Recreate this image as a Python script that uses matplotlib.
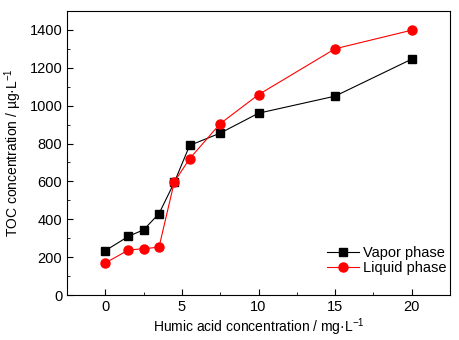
import matplotlib
matplotlib.use("Agg")
import matplotlib.pyplot as plt
from matplotlib.ticker import MultipleLocator

plt.rcParams["font.family"] = ["Liberation Sans", "DejaVu Sans"]
plt.rcParams["mathtext.fontset"] = "custom"
plt.rcParams["mathtext.rm"] = "Liberation Sans"
plt.rcParams["mathtext.it"] = "Liberation Sans"

# humic acid concentration (mg/L)
humic = [0, 1.5, 2.5, 3.5, 4.5, 5.5, 7.5, 10, 15, 20]
# TOC concentration (ug/L)
vapor = [235, 310, 345, 430, 595, 790, 855, 960, 1050, 1245]
liquid = [170, 238, 245, 253, 598, 720, 905, 1058, 1300, 1398]

fig = plt.figure(figsize=(4.6, 3.4), dpi=100)
ax = fig.add_axes([0.146, 0.132, 0.832, 0.836])

ax.plot(humic, vapor, color="black", lw=0.8, marker="s", ms=5.5, label="Vapor phase")
ax.plot(humic, liquid, color="red", lw=0.8, marker="o", ms=6.5, label="Liquid phase")

ax.set_xlim(-2.5, 22.5)
ax.set_ylim(0, 1500)
ax.xaxis.set_major_locator(MultipleLocator(5))
ax.xaxis.set_minor_locator(MultipleLocator(2.5))
ax.yaxis.set_major_locator(MultipleLocator(200))
ax.yaxis.set_minor_locator(MultipleLocator(100))
ax.tick_params(which="both", direction="in", labelsize=10.5)
ax.tick_params(which="major", length=4)
ax.tick_params(which="minor", length=2.5)

ax.set_xlabel("Humic acid concentration / mg\u00b7L$^{-1}$", fontsize=10, labelpad=2)
ax.set_ylabel("TOC concentration / \u00b5g\u00b7L$^{-1}$", fontsize=10, labelpad=4)

ax.legend(loc="lower right", bbox_to_anchor=(1.0, 0.06), frameon=False,
          fontsize=10.5, handlelength=2.2, handletextpad=0.3,
          labelspacing=0.1, borderaxespad=0.1, borderpad=0.1)

fig.savefig("out.png", dpi=100)
